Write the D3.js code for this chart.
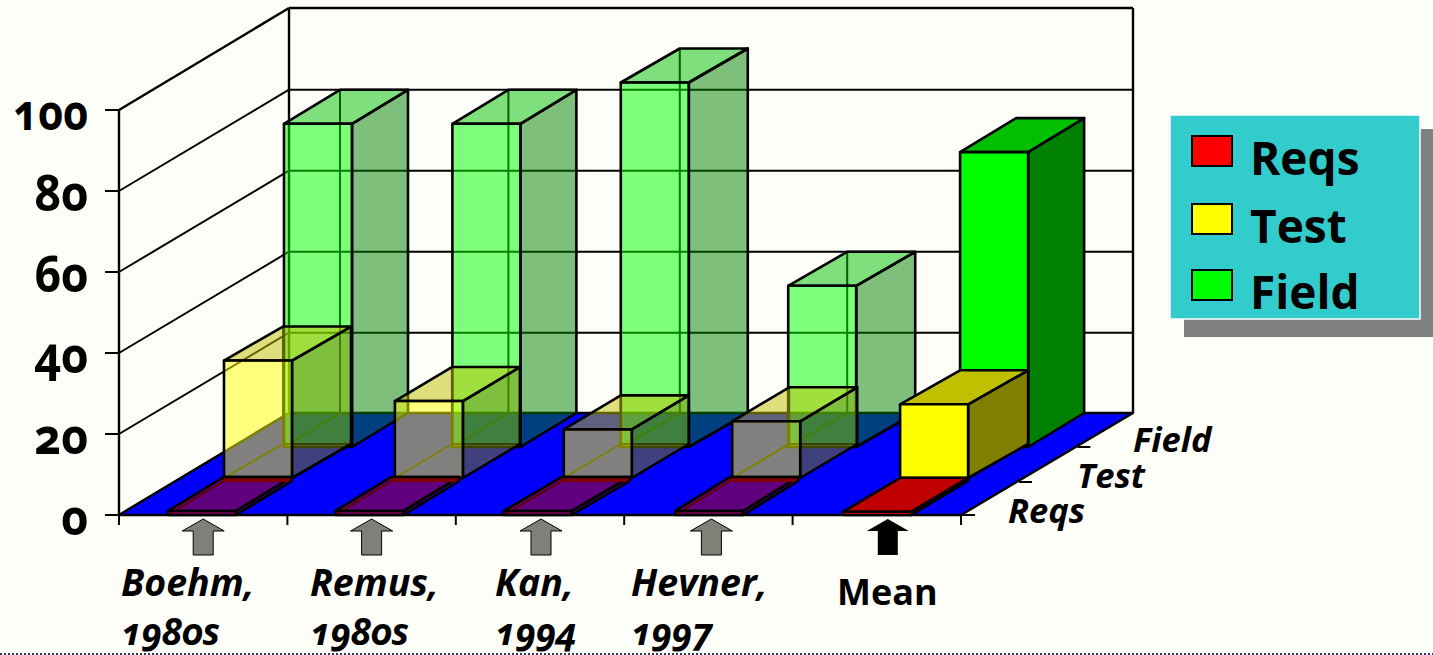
<!DOCTYPE html>
<html><head><meta charset="utf-8">
<script src="https://cdn.jsdelivr.net/npm/d3@7"></script>
<style>
html,body{margin:0;padding:0;background:#fdfef8;overflow:hidden}
svg{display:block}
text{font-family:"Open Sans",sans-serif;font-weight:700;fill:#000;font-variant-numeric:oldstyle-nums;font-feature-settings:"onum" 1}
</style></head><body><svg id="c" width="1433" height="655"></svg>
<script>
const categories = ["Boehm, 1980s","Remus, 1980s","Kan, 1994","Hevner, 1997","Mean"];
const seriesNames = ["Reqs","Test","Field"];
const reqsValues  = [1,1,1,1,0.8];
const testValues  = [29,19,12,14,18.2];
const fieldValues = [79.8,79.8,90,39.8,72.8];
const yTicks = [0,20,40,60,80,100];

const seriesValues = {Reqs:reqsValues,Test:testValues,Field:fieldValues};
const faceColors = {
  Reqs:{front:"#ff0000",top:"#c00000",side:"#800000"},
  Test:{front:"#ffff00",top:"#c0c000",side:"#808000"},
  Field:{front:"#00ff00",top:"#00c000",side:"#008000"}
};
const svg = d3.select("#c");
const X0=119,X1=961,Y0=515,H=405,DX=170,DY=-102;
const x = d3.scaleBand().domain(categories).range([X0,X1]);
const h = d3.scaleLinear().domain([0,100]).range([0,H]);
const yFront = d3.scaleLinear().domain([0,100]).range([Y0,Y0-H]);
const yBack = d3.scaleLinear().domain([0,100]).range([Y0+DY,Y0+DY-H]);
// row placement on the floor (the source's 3D projection rounds unevenly, hence the small shifts)
const rowX = d3.scaleOrdinal().domain(seriesNames).range([49,106,165]);
const rowY = d3.scaleOrdinal().domain(seriesNames).range([0,-37,-68]);
const rowShift = {Reqs:[0,-1,-1,2,1.5],Test:[-1,1.5,2,2,1.5],Field:[0,0,0,-1,2.5]};
const rowDepth = {Reqs:[56,56,58,55,57],Test:[59,57,57,57,60],Field:[56,56,59,59,56]};
const barW=68, depY=-34;
const poly=(pts)=>pts.map(p=>p.join(",")).join(" ");
const line=(g,a,b,w=2,c="#000")=>g.append("line").attr("x1",a[0]).attr("y1",a[1]).attr("x2",b[0]).attr("y2",b[1]).attr("stroke",c).attr("stroke-width",w);

// walls
const wall=svg.append("g");
yTicks.forEach(t=>{
  const by=yBack(t)+(t>0&&t<100?0.7:0);
  line(wall,[X0,yFront(t)],[X0+DX,by],t===100?2.4:2);
  line(wall,[X0+DX,by],[X1+DX+2,by],t===100?2.4:2);
  line(wall,[X0-14,yFront(t)],[X0,yFront(t)],2);
});
line(wall,[X0,yFront(0)],[X0,yFront(100)],2.4);
line(wall,[X0+DX,yBack(0)],[X0+DX,yBack(100)],2.4);
line(wall,[X1+DX+2,yBack(0)],[X1+DX+2,yBack(100)],2.4);

// floor
svg.append("polygon").attr("points",poly([[X0,Y0],[X1,Y0],[X1+DX+2,Y0+DY],[X0+DX,Y0+DY]]))
  .attr("fill","#0000ff").attr("stroke","#000").attr("stroke-width",2.4).attr("stroke-linejoin","round");

// bars, back row first
const bars=svg.append("g");
[...seriesNames].reverse().forEach(s=>{
  categories.forEach((c,i)=>{
    const v=seriesValues[s][i], opaque=c==="Mean";
    const g=bars.append("g");
    const L=x(c)+rowX(s)+rowShift[s][i], B=Y0+rowY(s), R=L+barW, T=B-h(v);
    const depX=rowDepth[s][i];
    const col=faceColors[s], op=opaque?1:0.5;
    // hidden edges
    if(!opaque){
      line(g,[L,B],[L+depX,B+depY]);
      line(g,[L+depX,B+depY],[R+depX,B+depY]);
      line(g,[L+depX,B+depY],[L+depX,T+depY]);
    }
    const face=(pts,fill)=>g.append("polygon").attr("points",poly(pts)).attr("fill",fill).attr("fill-opacity",op)
       .attr("stroke","#000").attr("stroke-width",2.6).attr("stroke-linejoin","round");
    face([[R,B],[R+depX,B+depY],[R+depX,T+depY],[R,T]],col.side);
    face([[L,T],[R,T],[R+depX,T+depY],[L+depX,T+depY]],col.top);
    face([[L,B],[R,B],[R,T],[L,T]],col.front);
    // dark back strip of the flat translucent bars
    if(s==="Reqs" && !opaque){
      g.append("polygon").attr("points",poly([[L+depX,T+depY+1],[R+depX,T+depY+1],[R+depX-4,T+depY+5],[L+depX,T+depY+5]]))
       .attr("fill","#800000");
      line(g,[L+depX,T+depY],[R+depX,T+depY],2.6);
    }
  });
});

// front axis ticks
const ax=svg.append("g");
d3.range(categories.length+1).forEach(i=>{
  const px=X0+i*x.bandwidth();
  line(ax,[px,Y0],[px,Y0+10],2);
});
line(ax,[X1,Y0],[X1+14,Y0],2);
const depthTickY=[482,447];
depthTickY.forEach(py=>{
  const ex=X1+(Y0-py)*DX/-DY+3;
  line(ax,[ex,py],[ex+13,py],2);
});

// y tick labels
svg.append("g").selectAll("text").data(yTicks).join("text")
  .attr("transform",d=>`translate(88,${yFront(d)+20}) scale(${d===100?0.86:0.93},1)`)
  .attr("text-anchor","end").attr("font-size",50).text(d=>d);

// arrows + category labels
const arrowShift=[0,0,1,3,11];
const labelX=[121,310,495,631,837];
categories.forEach((c,i)=>{
  const cx=x(c)+x.bandwidth()/2+arrowShift[i];
  const p=[[cx,519],[cx+21,531],[cx+10,531],[cx+10,555],[cx-10,555],[cx-10,531],[cx-21,531]];
  svg.append("polygon").attr("points",poly(p)).attr("fill",c==="Mean"?"#000":"#808078").attr("stroke","#000").attr("stroke-width",c==="Mean"?0:1);
  if(c==="Mean"){
    svg.append("text").attr("x",labelX[i]).attr("y",605).attr("font-size",36).text(c);
  } else {
    const [a,b]=c.split(" ");
    svg.append("text").attr("x",labelX[i]).attr("y",596).attr("font-size",37.5).attr("font-style","italic").text(a);
    svg.append("text").attr("x",labelX[i]).attr("y",645).attr("font-size",37).attr("font-style","italic").text(b);
  }
});

// series labels along depth
const depthLabelX=[1008,1077,1133], depthLabelY=[523,488,452];
seriesNames.forEach((s,i)=>svg.append("text").attr("x",depthLabelX[i]).attr("y",depthLabelY[i])
   .attr("font-size",34.5).attr("font-style","italic").text(s));

// legend
const lg=svg.append("g");
lg.append("rect").attr("x",1184).attr("y",129).attr("width",249).attr("height",208).attr("fill","#808080");
lg.append("rect").attr("x",1170).attr("y",115).attr("width",250).attr("height",204).attr("fill","#33cccc").attr("stroke","#fff").attr("stroke-width",1.5);
const swY=[136,204,270], txtY=[175,243,309];
seriesNames.forEach((s,i)=>{
  lg.append("rect").attr("x",1192).attr("y",swY[i]).attr("width",40).attr("height",30).attr("fill",faceColors[s].front).attr("stroke","#000").attr("stroke-width",2);
  lg.append("text").attr("x",1250).attr("y",txtY[i]).attr("font-size",46).text(s);
});

// bottom dotted rule
line(svg,[0,654],[1433,654],2,"#333366").attr("stroke-dasharray","2,2");
</script></body></html>
